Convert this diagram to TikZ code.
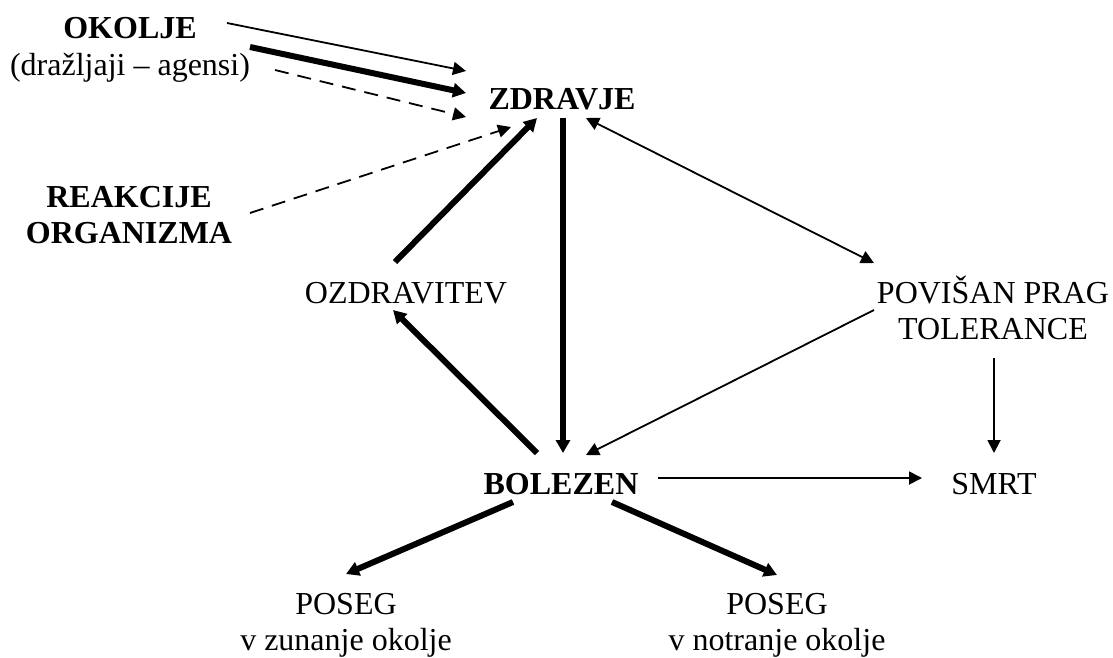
\documentclass[tikz,border=0pt]{standalone}
\usepackage{fontspec}
\setmainfont{Liberation Serif}
\usetikzlibrary{arrows.meta}

\newcommand{\twolines}[2]{\begin{tabular}[t]{@{}c@{}}#1\\#2\end{tabular}}

\begin{document}
\begin{tikzpicture}[x=1pt, y=-1pt,
  lbl/.style={anchor=base, inner sep=0pt, outer sep=0pt,
              font=\fontsize{32}{36}\selectfont},
  thintip/.style={Triangle[length=13pt,width=13pt]},
  thinarrow/.style={line width=1.8pt, -{Triangle[length=13pt,width=13pt]}},
  thinboth/.style={line width=1.8pt, {Triangle[length=13pt,width=13pt]}-{Triangle[length=13pt,width=13pt]}},
  thickarrow/.style={line width=6pt, -{Triangle[length=13pt,width=14pt]}},
  dasharrow/.style={line width=1.8pt, dash pattern=on 14pt off 9pt,
              -{Triangle[length=13pt,width=13pt]}}]

\path[use as bounding box] (0,0) rectangle (1113,657);

% labels
\node[lbl] (okolje)   at (130,38)  {\twolines{\textbf{OKOLJE}}{\rule{0pt}{27pt}(dražljaji – agensi)}};
\node[lbl] (zdravje)  at (562,109) {\textbf{ZDRAVJE}};
\node[lbl] (reakcije) at (129,207) {\twolines{\textbf{REAKCIJE}}{\textbf{ORGANIZMA}}};
\node[lbl] (ozdrav)   at (406,303) {OZDRAVITEV};
\node[lbl] (povisan)  at (993,303) {\twolines{POVIŠAN PRAG}{TOLERANCE}};
\node[lbl] (bolezen)  at (561,494) {\textbf{BOLEZEN}};
\node[lbl] (smrt)     at (994,494) {SMRT};
\node[lbl] (posegz)   at (346,614) {\twolines{POSEG}{v zunanje okolje}};
\node[lbl] (posegn)   at (777,614) {\twolines{POSEG}{v notranje okolje}};

% environment acting on health
\draw[thinarrow]  ([shift={(97,-15)}]okolje.base)  -- ([shift={(-96,-38)}]zdravje.base);
\draw[thickarrow] ([shift={(120,9)}]okolje.base)   -- ([shift={(-96,-16)}]zdravje.base);
\draw[dasharrow]  ([shift={(145,32)}]okolje.base)  -- ([shift={(-96,8)}]zdravje.base);

% reactions of the organism
\draw[dasharrow]  ([shift={(121,6)}]reakcije.base) -- ([shift={(-51,18)}]zdravje.base);

% recovery cycle
\draw[thickarrow] ([shift={(-11,-41)}]ozdrav.base) -- ([shift={(-25,9)}]zdravje.base);
\draw[thickarrow] ([shift={(1,9)}]zdravje.base)    -- ([shift={(2,-41)}]bolezen.base);
\draw[thickarrow] ([shift={(-24,-41)}]bolezen.base) -- ([shift={(-13,7)}]ozdrav.base);

% tolerance threshold
\draw[thinboth]   ([shift={(24,9)}]zdravje.base)   -- ([shift={(-119,-40)}]povisan.base);
\draw[thinarrow]  ([shift={(-119,7)}]povisan.base) -- ([shift={(25,-39)}]bolezen.base);
\draw[thinarrow]  ([shift={(1,55)}]povisan.base)   -- ([shift={(0,-41)}]smrt.base);

% outcomes of illness
\draw[thinarrow]  ([shift={(97,-16)}]bolezen.base) -- ([shift={(-72,-16)}]smrt.base);
\draw[thickarrow] ([shift={(-48,8)}]bolezen.base)  -- ([shift={(0,-40)}]posegz.base);
\draw[thickarrow] ([shift={(51,8)}]bolezen.base)   -- ([shift={(0,-39)}]posegn.base);

\end{tikzpicture}
\end{document}
